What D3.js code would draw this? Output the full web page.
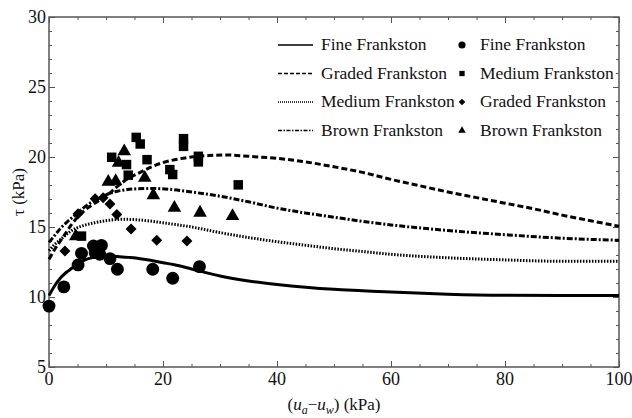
<!DOCTYPE html>
<html>
<head>
<meta charset="utf-8">
<script src="https://cdn.jsdelivr.net/npm/d3@7"></script>
<style>
  body { margin: 0; background: #fff; }
  svg text { font-family: "Liberation Serif", "DejaVu Serif", serif; fill: #111; }
</style>
</head>
<body>
<div id="chart"></div>
<script>
// model curves: [suction, shear strength]
const fineCurve = [[0,10.1],[1,10.8],[2,11.35],[3,11.75],[4,12.05],[5,12.35],[6,12.6],[8,12.85],[10,12.93],[12,12.9],[14,12.83],[16,12.74],[18,12.6],[20,12.45],[22,12.3],[25,12.0],[30,11.5],[35,11.15],[40,10.9],[45,10.7],[50,10.55],[55,10.45],[60,10.35],[70,10.2],[80,10.12],[90,10.1],[100,10.1]];
const gradedCurve = [[0,12.7],[1,13.4],[2,14.0],[3,14.6],[4,15.2],[5,15.7],[6,16.1],[8,16.7],[10,17.2],[12,17.9],[14,18.5],[16,18.9],[18,19.3],[20,19.6],[22,19.8],[25,20.0],[28,20.1],[31,20.15],[35,20.05],[40,19.9],[45,19.65],[50,19.3],[55,18.9],[60,18.4],[65,17.95],[70,17.5],[75,17.1],[80,16.7],[85,16.3],[90,15.85],[95,15.45],[100,15.05]];
const mediumCurve = [[0,13.3],[1,13.75],[2,14.1],[3,14.45],[4,14.75],[5,14.95],[6,15.1],[8,15.3],[10,15.45],[13,15.55],[16,15.5],[20,15.3],[25,15.0],[30,14.6],[35,14.25],[40,13.95],[45,13.7],[50,13.45],[55,13.25],[60,13.05],[70,12.8],[80,12.65],[90,12.55],[100,12.55]];
const brownCurve = [[0,13.9],[1,14.4],[2,14.9],[3,15.3],[4,15.65],[5,16.0],[6,16.35],[8,16.9],[10,17.3],[12,17.55],[15,17.72],[18,17.75],[21,17.7],[25,17.5],[30,17.2],[35,16.8],[40,16.35],[45,16.0],[50,15.7],[55,15.4],[60,15.15],[70,14.75],[80,14.45],[90,14.2],[100,14.05]];

// measured points
const finePts = [[0,9.35],[2.6,10.72],[5.1,12.29],[5.7,13.12],[7.8,13.64],[9.2,13.69],[8.1,13.17],[8.9,13.05],[10.7,12.74],[12.0,11.98],[18.2,11.98],[21.7,11.34],[26.4,12.17]];
const mediumPts = [[15.3,21.4],[16.0,20.93],[11.0,19.98],[13.6,19.46],[17.2,19.81],[13.9,18.7],[21.2,19.1],[21.7,18.75],[23.6,21.31],[23.6,20.76],[26.2,20.05],[26.2,19.65],[33.2,18.01],[5.7,14.35]];
const gradedPts = [[2.8,13.28],[5.1,15.95],[8.1,17.02],[9.5,17.09],[10.7,16.65],[11.9,15.9],[14.4,14.85],[18.9,14.05],[24.2,14.0]];
const brownPts = [[13.2,20.41],[12.2,19.58],[10.4,18.23],[11.7,18.27],[16.8,18.51],[18.3,17.27],[22.0,16.37],[26.5,16.02],[32.2,15.78],[4.7,14.33]];

const xTicks = [0, 20, 40, 60, 80, 100];
const yTicks = [5, 10, 15, 20, 25, 30];

const width = 632, height = 418;
const margin = {left: 49, right: 13, top: 17, bottom: 51};

const svg = d3.select("#chart").append("svg")
    .attr("width", width)
    .attr("height", height);

const x = d3.scaleLinear().domain([0, 100]).range([margin.left, width - margin.right]);
const y = d3.scaleLinear().domain([5, 30]).range([height - margin.bottom, margin.top]);

const frameColor = "#555";

// frame ticks on all four sides, pointing in
function tickSide(axisFn, scale, values, len, transform) {
    svg.append("g")
        .attr("transform", transform)
        .call(axisFn(scale).tickValues(values).tickSize(len).tickFormat(""))
        .call(g => g.select(".domain").remove())
        .call(g => g.selectAll("line").attr("stroke", frameColor).attr("stroke-width", 1));
}
const xMinor = d3.range(0, 101, 5), yMinor = d3.range(5, 31, 1);
const x0 = x.range()[0], x1 = x.range()[1], y0 = y.range()[0], y1 = y.range()[1];
tickSide(d3.axisTop, x, xMinor, 3, `translate(0,${y0})`);
tickSide(d3.axisTop, x, xTicks, 6, `translate(0,${y0})`);
tickSide(d3.axisBottom, x, xMinor, 3, `translate(0,${y1})`);
tickSide(d3.axisBottom, x, xTicks, 6, `translate(0,${y1})`);
tickSide(d3.axisRight, y, yMinor, 3, `translate(${x0},0)`);
tickSide(d3.axisRight, y, yTicks, 6, `translate(${x0},0)`);
tickSide(d3.axisLeft, y, yMinor, 3, `translate(${x1},0)`);
tickSide(d3.axisLeft, y, yTicks, 6, `translate(${x1},0)`);

svg.append("rect")
    .attr("x", x0).attr("y", y1)
    .attr("width", x1 - x0).attr("height", y0 - y1)
    .attr("fill", "none").attr("stroke", frameColor).attr("stroke-width", 1.5);

// tick labels
svg.selectAll(".xl").data(xTicks).join("text")
    .attr("x", d => x(d)).attr("y", y0 + 18)
    .attr("text-anchor", "middle").style("font-size", "18px")
    .text(d => d);
svg.selectAll(".yl").data(yTicks).join("text")
    .attr("x", x0 - 3).attr("y", d => y(d) + 6)
    .attr("text-anchor", "end").style("font-size", "18px")
    .text(d => d);

// axis titles
svg.append("text")
    .attr("transform", `translate(24,${(y0 + y1) / 2}) rotate(-90)`)
    .attr("text-anchor", "middle").style("font-size", "17px")
    .text("\u03c4 (kPa)");

const xt = svg.append("text")
    .attr("x", (x0 + x1) / 2).attr("y", 410)
    .attr("text-anchor", "middle").style("font-size", "17px");
xt.append("tspan").text("(");
xt.append("tspan").style("font-style", "italic").text("u");
xt.append("tspan").attr("dy", 4).style("font-size", "12px").style("font-style", "italic").text("a");
xt.append("tspan").attr("dy", -4).text("\u2212");
xt.append("tspan").style("font-style", "italic").text("u");
xt.append("tspan").attr("dy", 4).style("font-size", "12px").style("font-style", "italic").text("w");
xt.append("tspan").attr("dy", -4).text(") (kPa)");

// curves
const line = d3.line().x(d => x(d[0])).y(d => y(d[1])).curve(d3.curveMonotoneX);
const curves = [
    {data: fineCurve, dash: null},
    {data: gradedCurve, dash: "6,3"},
    {data: mediumCurve, dash: "1.5,1.5"},
    {data: brownCurve, dash: "6,2,2,2"}
];
const plot = svg.append("g");
curves.forEach(c => {
    plot.append("path")
        .attr("d", line(c.data))
        .attr("fill", "none")
        .attr("stroke", "#000")
        .attr("stroke-width", 3)
        .attr("stroke-dasharray", c.dash);
});

// markers (diamond = square turned 45 degrees)
const sym = {
    circle: d3.symbol().type(d3.symbolCircle),
    square: d3.symbol().type(d3.symbolSquare),
    diamond: d3.symbol().type(d3.symbolSquare),
    triangle: d3.symbol().type(d3.symbolTriangle)
};
const rot = {circle: 0, square: 0, diamond: 45, triangle: 0};
const pointSets = [
    {data: finePts, shape: "circle", size: 130},
    {data: mediumPts, shape: "square", size: 90},
    {data: gradedPts, shape: "diamond", size: 60},
    {data: brownPts, shape: "triangle", size: 80}
];
pointSets.forEach(p => {
    plot.selectAll(null).data(p.data).join("path")
        .attr("transform", d => `translate(${x(d[0])},${y(d[1])}) rotate(${rot[p.shape]})`)
        .attr("d", sym[p.shape].size(p.size)())
        .attr("fill", "#000");
});

// legend
const lineNames = ["Fine Frankston", "Graded Frankston", "Medium Frankston", "Brown Frankston"];
const pointNames = ["Fine Frankston", "Medium Frankston", "Graded Frankston", "Brown Frankston"];
const legend = svg.append("g").style("font-size", "17.5px");
lineNames.forEach((name, i) => {
    const ly = 45 + i * 28.5;
    legend.append("line")
        .attr("x1", 278).attr("x2", 313).attr("y1", ly).attr("y2", ly)
        .attr("stroke", "#000").attr("stroke-width", i === 0 ? 1.5 : 1.3)
        .attr("stroke-dasharray", [null, "4,2", "1,1", "4,1.5,1.5,1.5"][i]);
    legend.append("text").attr("x", 321).attr("y", ly + 5).text(name);
});
pointNames.forEach((name, i) => {
    const ly = 45 + i * 28.5;
    const p = pointSets[i];
    legend.append("path")
        .attr("transform", `translate(462,${ly}) rotate(${rot[p.shape]})`)
        .attr("d", sym[p.shape].size([40, 28, 22, 24][i])())
        .attr("fill", "#000");
    legend.append("text").attr("x", 480).attr("y", ly + 5).text(name);
});
</script>
</body>
</html>
